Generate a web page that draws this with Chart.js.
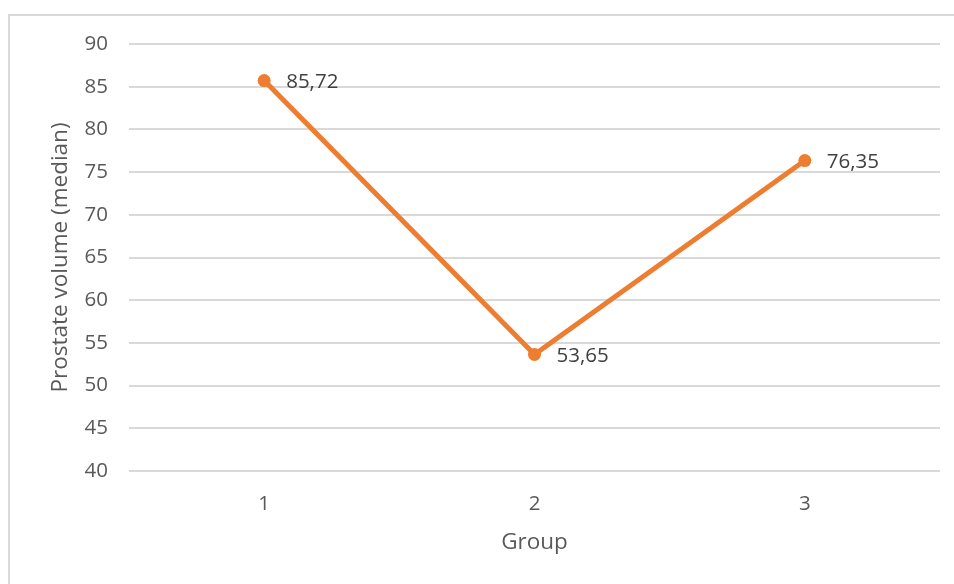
<!DOCTYPE html>
<html>
<head>
<meta charset="utf-8">
<script src="https://cdn.jsdelivr.net/npm/chart.js@4"></script>
<style>
  html, body { margin: 0; padding: 0; background: #fff; }
  #wrap { position: relative; width: 954px; height: 584px; overflow: hidden; }
  #frame { position: absolute; left: 8px; top: 14px; width: 1000px; height: 1000px;
           border-top: 2px solid #d9d9d9; border-left: 2px solid #d9d9d9; }
  #chart { position: absolute; left: 0; top: 0; }
</style>
</head>
<body>
<div id="wrap">
  <div id="frame"></div>
  <canvas id="chart" width="954" height="584"></canvas>
</div>
<script>
const groups = ['1', '2', '3'];
const volumeMedian = [85.72, 53.65, 76.35];
const valueLabels = ['85,72', '53,65', '76,35'];

const font = "'Open Sans', sans-serif";

// draw the value labels to the right of each point
const pointLabels = {
    id: 'pointLabels',
    afterDatasetsDraw(chart) {
        const ctx = chart.ctx;
        const meta = chart.getDatasetMeta(0);
        ctx.save();
        ctx.font = '20.5px ' + font;
        ctx.fillStyle = '#404040';
        ctx.textAlign = 'left';
        ctx.textBaseline = 'middle';
        meta.data.forEach((pt, i) => {
            ctx.fillText(valueLabels[i], pt.x + 22, pt.y + 2);
        });
        ctx.restore();
    }
};

new Chart(document.getElementById('chart').getContext('2d'), {
    type: 'line',
    data: {
        labels: groups,
        datasets: [{
            label: 'Prostate volume',
            data: volumeMedian,
            borderColor: '#ED7D31',
            backgroundColor: '#ED7D31',
            borderWidth: 5,
            pointBackgroundColor: '#ED7D31',
            pointBorderWidth: 0,
            pointRadius: 6.5,
            tension: 0,
            fill: false
        }]
    },
    options: {
        responsive: false,
        animation: false,
        layout: { padding: { top: 44, right: 14, left: 0, bottom: 0 } },
        plugins: { legend: { display: false }, tooltip: { enabled: false } },
        scales: {
            x: {
                offset: true,
                grid: { display: false, drawTicks: false },
                border: { display: false },
                ticks: { color: '#595959', font: { family: font, size: 20.5 }, padding: 21 },
                title: {
                    display: true, text: 'Group', color: '#595959',
                    font: { family: font, size: 22.5 }, padding: { top: 0, bottom: 27.5 }
                },
                afterFit(scale) { scale.height = 584 - 471; }
            },
            y: {
                min: 40, max: 90,
                ticks: { stepSize: 5, color: '#595959', font: { family: font, size: 20.5 }, padding: 21 },
                grid: { color: '#d9d9d9', lineWidth: 2, drawTicks: false },
                border: { display: false },
                title: {
                    display: true, text: 'Prostate volume (median)', color: '#595959',
                    font: { family: font, size: 22.5 }, padding: { top: 47.5, bottom: 0 }
                },
                afterFit(scale) { scale.width = 129; }
            }
        }
    },
    plugins: [pointLabels]
});
</script>
</body>
</html>
